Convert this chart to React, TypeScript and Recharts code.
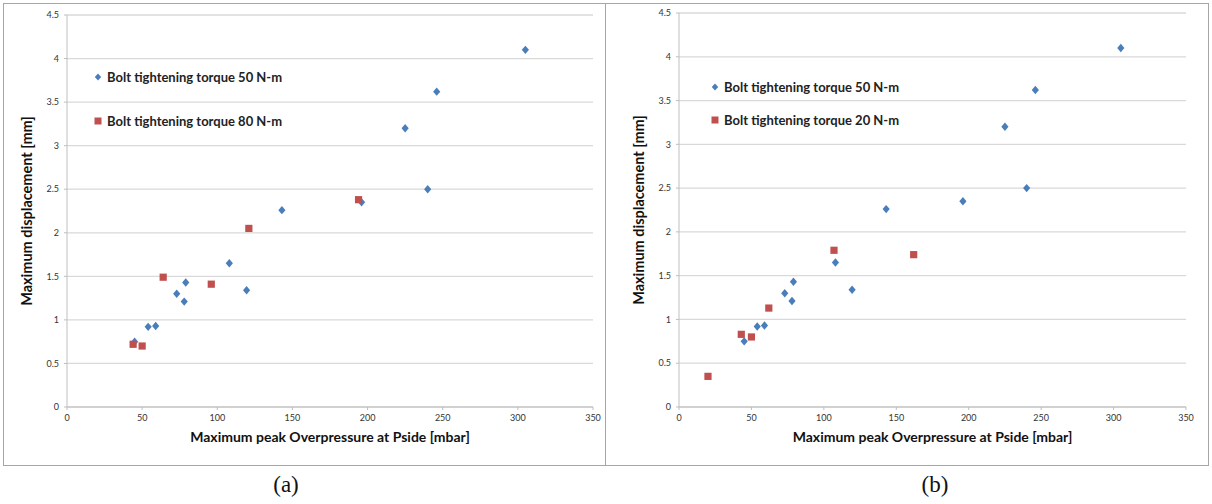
import React from 'react';
import {
  ScatterChart,
  Scatter,
  XAxis,
  YAxis,
  CartesianGrid,
  Legend,
} from 'recharts';

// ─────────────────────────────────────────────────────────────────────────────
// Data
// ─────────────────────────────────────────────────────────────────────────────

const X_TICKS = [0, 50, 100, 150, 200, 250, 300, 350];
const Y_TICKS = [0, 0.5, 1, 1.5, 2, 2.5, 3, 3.5, 4, 4.5];

const X_TITLE = 'Maximum peak Overpressure at Pside [mbar]';
const Y_TITLE = 'Maximum displacement [mm]';

// torque 50 N-m, same runs in both panels
const T50_X = [45, 54, 59, 73, 78, 79, 108, 119.5, 143, 196, 225, 240, 246, 305];
const T50_Y = [0.75, 0.92, 0.93, 1.3, 1.21, 1.43, 1.65, 1.34, 2.26, 2.35, 3.2, 2.5, 3.62, 4.1];

// panel (a): torque 80 N-m
const T80_X = [44, 50, 64, 96, 121, 194];
const T80_Y = [0.72, 0.7, 1.49, 1.41, 2.05, 2.38];

// panel (b): torque 20 N-m
const T20_X = [20, 43, 50, 62, 107, 162];
const T20_Y = [0.35, 0.83, 0.8, 1.13, 1.79, 1.74];

const BLUE = '#4a7ebb';
const RED = '#c0504d';
const FONT = 'Lato, "Open Sans", sans-serif';

const toPoints = (xs: number[], ys: number[]) => xs.map((x, i) => ({ x, y: ys[i] }));

// ─────────────────────────────────────────────────────────────────────────────
// Markers
// ─────────────────────────────────────────────────────────────────────────────

const Diamond = (props: any) => {
  const { cx, cy } = props;
  if (cx == null || cy == null) return null;
  const w = 3.6;
  const h = 4.2;
  return (
    <polygon
      points={`${cx},${cy - h} ${cx + w},${cy} ${cx},${cy + h} ${cx - w},${cy}`}
      fill={BLUE}
    />
  );
};

const Square = (props: any) => {
  const { cx, cy } = props;
  if (cx == null || cy == null) return null;
  const s = 3.6;
  return <rect x={cx - s} y={cy - s} width={s * 2} height={s * 2} fill={RED} />;
};

interface LegendItem {
  label: string;
  kind: 'diamond' | 'square';
}

const makeLegend = (items: LegendItem[], gap: number) => () => (
  <div style={{ fontFamily: FONT, fontWeight: 700, fontSize: 13, color: '#222' }}>
    {items.map((it, i) => (
      <div key={i} style={{ display: 'flex', alignItems: 'center', height: 14, marginBottom: i === 0 ? gap : 0 }}>
        <svg width={10} height={10} style={{ marginRight: 4 }}>
          {it.kind === 'diamond' ? (
            <polygon points="5,1.5 8.2,5 5,8.5 1.8,5" fill={BLUE} />
          ) : (
            <rect x={1.5} y={1.5} width={7} height={7} fill={RED} />
          )}
        </svg>
        <span style={{ whiteSpace: 'nowrap' }}>{it.label}</span>
      </div>
    ))}
  </div>
);

// ─────────────────────────────────────────────────────────────────────────────
// One panel
// ─────────────────────────────────────────────────────────────────────────────

interface PanelProps {
  width: number;
  height: number;
  margin: { top: number; right: number; bottom: number; left: number };
  yLabelOffset: number;
  xLabelOffset: number;
  second: { x: number[]; y: number[]; label: string };
  legendPos: { left: number; top: number };
  legendGap: number;
}

function Panel({ width, height, margin, yLabelOffset, xLabelOffset, second, legendPos, legendGap }: PanelProps) {
  const tick = { fill: '#333', fontSize: 9, fontFamily: FONT };
  const legend = makeLegend(
    [
      { label: 'Bolt tightening torque 50 N-m', kind: 'diamond' },
      { label: second.label, kind: 'square' },
    ],
    legendGap
  );

  return (
    <ScatterChart width={width} height={height} margin={margin}>
      <CartesianGrid stroke="#d9d9d9" strokeWidth={1.3} vertical={false} />
      <XAxis
        type="number"
        dataKey="x"
        domain={[0, 350]}
        ticks={X_TICKS}
        interval={0}
        height={52}
        tick={tick}
        tickSize={3}
        tickMargin={5}
        stroke="#bfbfbf"
        label={{
          value: X_TITLE,
          position: 'insideBottom',
          offset: xLabelOffset,
          style: { fontFamily: FONT, fontWeight: 700, fontSize: 14, fill: '#111' },
        }}
      />
      <YAxis
        type="number"
        dataKey="y"
        domain={[0, 4.5]}
        ticks={Y_TICKS}
        interval={0}
        width={50}
        tick={tick}
        tickSize={3}
        tickMargin={5}
        stroke="#bfbfbf"
        label={{
          value: Y_TITLE,
          angle: -90,
          position: 'insideLeft',
          offset: yLabelOffset,
          style: { textAnchor: 'middle', fontFamily: FONT, fontWeight: 700, fontSize: 14.5, fill: '#111' },
        }}
      />
      {/* horizontal + middle + center keeps the legend from eating plot space */}
      <Legend
        content={legend}
        layout="horizontal"
        verticalAlign="middle"
        align="center"
        wrapperStyle={{ position: 'absolute', left: legendPos.left, top: legendPos.top, width: 'auto' }}
      />
      <Scatter
        name="Bolt tightening torque 50 N-m"
        data={toPoints(T50_X, T50_Y)}
        shape={<Diamond />}
        isAnimationActive={false}
      />
      <Scatter
        name={second.label}
        data={toPoints(second.x, second.y)}
        shape={<Square />}
        isAnimationActive={false}
      />
    </ScatterChart>
  );
}

export default function App() {
  const caption: React.CSSProperties = {
    position: 'absolute',
    top: 472,
    fontFamily: '"Liberation Serif", "DejaVu Serif", serif',
    fontSize: 23,
    color: '#111',
    transform: 'translateX(-50%)',
  };

  return (
    <div style={{ position: 'absolute', left: 0, top: 0, width: 1212, height: 504, background: '#fff' }}>
      <div
        style={{
          position: 'absolute',
          left: 3,
          top: 3,
          width: 603,
          height: 463,
          boxSizing: 'border-box',
          border: '1px solid #a6a6a6',
        }}
      >
        <Panel
          width={601}
          height={461}
          margin={{ top: 11, right: 12, bottom: 6, left: 13 }}
          yLabelOffset={10}
          xLabelOffset={17}
          second={{ x: T80_X, y: T80_Y, label: 'Bolt tightening torque 80 N-m' }}
          legendPos={{ left: 89, top: 66 }}
          legendGap={30}
        />
      </div>
      <div
        style={{
          position: 'absolute',
          left: 605,
          top: 3,
          width: 604,
          height: 463,
          boxSizing: 'border-box',
          border: '1px solid #a6a6a6',
        }}
      >
        <Panel
          width={602}
          height={461}
          margin={{ top: 9, right: 22, bottom: 6, left: 23 }}
          yLabelOffset={10}
          xLabelOffset={17}
          second={{ x: T20_X, y: T20_Y, label: 'Bolt tightening torque 20 N-m' }}
          legendPos={{ left: 104, top: 76 }}
          legendGap={19}
        />
      </div>
      <div style={{ ...caption, left: 286 }}>(a)</div>
      <div style={{ ...caption, left: 935 }}>(b)</div>
    </div>
  );
}
